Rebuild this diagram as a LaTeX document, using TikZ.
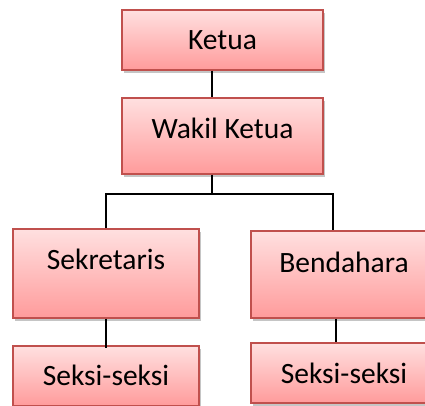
\documentclass[tikz,border=0pt]{standalone}
\usepackage{fontspec}
\setmainfont{Carlito}
\usetikzlibrary{shadows}
\definecolor{boxline}{RGB}{192,80,77}
\definecolor{boxtop}{RGB}{255,224,224}
\definecolor{boxbot}{RGB}{255,155,155}

\begin{document}
\begin{tikzpicture}[x=1pt,y=-1pt]
    \tikzset{orgbox/.style={draw=boxline, line width=1.1pt, top color=boxtop, bottom color=boxbot,
        rectangle, inner sep=0pt, font=\fontsize{29.5}{32}\selectfont,
        drop shadow={shadow xshift=2pt, shadow yshift=-3pt, fill=black!45, opacity=0.5}}}
    \tikzset{link/.style={draw=black, line width=1.3pt}}
    \useasboundingbox (0,0) rectangle (425,405);
    % boxes (text height / depth put the text near the top)
    \node [orgbox, minimum width=201pt, text height=39pt, text depth=21pt] (ketua) at (222.5,40) {Ketua};
    \node [orgbox, minimum width=201pt, text height=40pt, text depth=36pt] (wakil) at (222.5,136) {Wakil Ketua};
    \node [orgbox, minimum width=186pt, text height=40pt, text depth=49pt] (sekretaris) at (106,273.5) {Sekretaris};
    \node [orgbox, minimum width=186pt, text height=41pt, text depth=46pt] (bendahara) at (344,274.5) {Bendahara};
    \node [orgbox, minimum width=186pt, text height=39pt, text depth=21pt] (seksiA) at (106,376) {Seksi-seksi};
    \node [orgbox, minimum width=186pt, text height=40pt, text depth=20pt] (seksiB) at (344,373) {Seksi-seksi};
    % connectors
    \coordinate (fork) at (212,194);
    \draw [link] (ketua.south -| fork) -- (wakil.north -| fork);
    \draw [link] (wakil.south -| fork) -- (fork);
    \draw [link] (sekretaris.north) |- (fork) -| ([xshift=-11pt]bendahara.north);
    \draw [link] (sekretaris.south) -- ([yshift=-3pt]seksiA.north);
    \draw [link] ([xshift=-8pt]bendahara.south) -- ([xshift=-8pt]seksiB.north);
\end{tikzpicture}
\end{document}
